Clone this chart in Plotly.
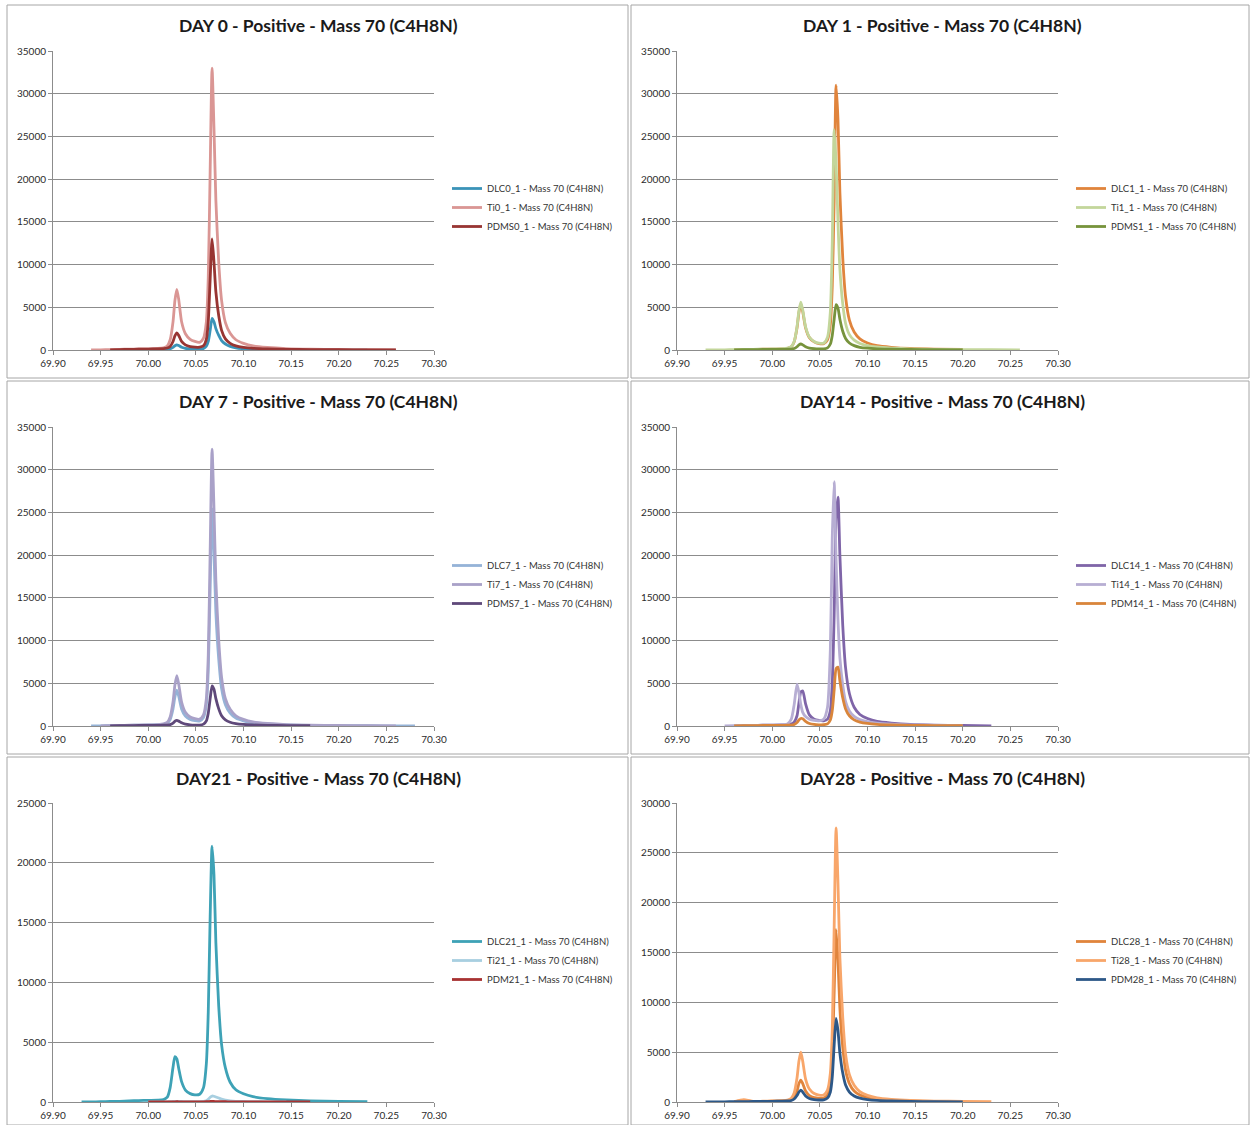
import plotly.graph_objects as go

N = None
# m/z grid (shared by all series)
MZ = [69.93, 69.94, 69.95, 69.96, 69.97, 69.98, 69.99, 70.00, 70.01,
      70.016, 70.020, 70.023, 70.026, 70.028, 70.030, 70.032, 70.035, 70.039, 70.044, 70.049, 70.054, 70.058,
      70.061, 70.063, 70.065, 70.067, 70.069, 70.071, 70.074, 70.077, 70.081, 70.086, 70.092, 70.100,
      70.110, 70.125, 70.145, 70.170, 70.200, 70.230, 70.260, 70.280]

# DAY 0
DLC0 = [N, N, N, N, 0, 20, 30, 40, 50,
        60, 80, 140, 300, 500, 600, 520, 330, 200, 120, 90, 90, 180,
        450, 1000, 2300, 3700, 3300, 2500, 1700, 1100, 700, 420, 250, 150,
        90, 55, 35, 20, 15, 10, N, N]
TI0 = [N, 0, 20, 50, 80, 100, 120, 140, 180,
       260, 480, 1200, 3300, 5800, 7100, 5900, 3300, 1900, 1250, 1000, 900, 1400,
       3300, 8500, 21000, 33000, 26000, 17500, 10200, 5800, 3200, 1950, 1200, 780,
       470, 300, 170, 100, 70, 40, 20, N]
PDMS0 = [N, N, N, 0, 40, 70, 90, 110, 130,
         160, 230, 420, 1000, 1650, 2000, 1700, 1000, 600, 400, 330, 330, 500,
         1250, 3300, 8300, 13000, 10300, 6800, 4000, 2300, 1300, 780, 490, 320,
         200, 130, 80, 50, 30, 20, 10, N]
# DAY 1
DLC1 = [N, N, N, 0, 50, 70, 90, 110, 140,
        200, 370, 950, 2600, 4400, 5400, 4500, 2600, 1450, 950, 750, 750, 1200,
        3000, 7500, 17500, 31000, 27000, 18500, 10800, 6200, 3500, 2100, 1300, 820,
        500, 320, 180, 100, 60, N, N, N]
TI1 = [0, 10, 20, 40, 60, 80, 100, 120, 150,
       220, 400, 1000, 2700, 4600, 5600, 4700, 2700, 1500, 1000, 800, 800, 1500,
       4500, 12500, 25800, 22000, 15000, 9500, 5400, 3100, 1800, 1150, 770, 510,
       350, 230, 130, 80, 50, 30, 10, N]
PDMS1 = [N, N, N, 0, 30, 50, 60, 70, 80,
         90, 110, 180, 380, 600, 700, 600, 380, 230, 150, 120, 130, 250,
         700, 1700, 3600, 5300, 4900, 3600, 2200, 1350, 820, 510, 320, 210,
         140, 90, 60, 40, 20, N, N, N]
# DAY 7
DLC7 = [N, 0, 20, 40, 60, 80, 100, 120, 150,
        200, 330, 760, 2000, 3400, 4200, 3500, 2000, 1150, 760, 620, 600, 1000,
        2500, 6500, 16000, 25400, 20200, 13300, 7800, 4400, 2500, 1500, 920, 600,
        370, 240, 140, 80, 50, 30, 15, 0]
TI7 = [N, N, 0, 40, 70, 90, 110, 130, 170,
       240, 420, 1050, 2800, 4800, 5900, 4900, 2800, 1600, 1050, 850, 800, 1300,
       3200, 8300, 20500, 32400, 25500, 17000, 10000, 5700, 3200, 1950, 1200, 770,
       470, 300, 170, 100, 60, 30, 10, N]
PDMS7 = [N, N, N, 0, 30, 50, 60, 70, 80,
         90, 110, 170, 350, 560, 650, 570, 370, 220, 140, 110, 110, 220,
         600, 1500, 3200, 4700, 4300, 3200, 2000, 1200, 720, 440, 280, 180,
         120, 80, 50, 30, N, N, N, N]
# DAY 14
DLC14 = [N, N, N, 0, 50, 70, 90, 100, 120,
         160, 230, 450, 1200, 2700, 4000, 4100, 2600, 1300, 800, 650, 600, 800,
         1800, 5000, 13000, 24500, 26800, 20000, 11800, 6800, 3800, 2200, 1350, 870,
         530, 340, 190, 110, 60, 20, N, N]
TI14 = [N, N, 0, 30, 50, 70, 90, 110, 150,
        250, 800, 2500, 4900, 3900, 2500, 1600, 1100, 800, 650, 600, 800, 2200,
        9000, 22000, 28600, 19500, 12500, 8000, 4800, 2850, 1750, 1120, 760, 500,
        330, 210, 120, 70, 40, N, N, N]
PDM14 = [N, N, N, 0, 30, 50, 60, 70, 80,
         90, 110, 180, 400, 700, 880, 850, 550, 300, 180, 140, 150, 250,
         700, 1800, 4200, 6700, 6900, 5300, 3300, 2000, 1200, 720, 460, 300,
         200, 130, 80, 50, 30, N, N, N]
# DAY 21
DLC21 = [0, 10, 20, 40, 60, 90, 120, 140, 150,
         200, 400, 1200, 2900, 3800, 3600, 2800, 1700, 1000, 700, 600, 650, 1200,
         3200, 7500, 15500, 21400, 19000, 13300, 8000, 4800, 2850, 1650, 1020, 690,
         450, 280, 170, 100, 60, 20, N, N]
TI21 = [N, N, N, N, N, N, N, 0, 5,
        8, 15, 25, 40, 55, 60, 55, 40, 30, 25, 25, 30, 50,
        110, 230, 400, 500, 480, 420, 330, 240, 160, 100, 60, 40,
        25, 15, 10, N, N, N, N, N]
PDM21 = [N, N, N, N, N, N, N, 0, 5,
         8, 10, 12, 15, 18, 20, 18, 15, 12, 10, 10, 12, 15,
         20, 30, 40, 45, 40, 35, 30, 25, 20, 15, 12, 10,
         8, 5, 5, 0, N, N, N, N]
# DAY 28
DLC28 = [N, N, N, 0, 150, 50, 60, 80, 100,
         140, 230, 480, 1100, 1850, 2200, 1850, 1100, 650, 430, 370, 400, 700,
         1800, 4500, 11000, 17300, 14200, 9400, 5500, 3200, 1850, 1100, 700, 460,
         300, 190, 110, 60, 40, N, N, N]
TI28 = [N, N, N, 30, 230, 60, 80, 100, 130,
        200, 380, 900, 2400, 4100, 5000, 4100, 2300, 1300, 850, 700, 700, 1200,
        2900, 7200, 17500, 27500, 22000, 14500, 8500, 4800, 2750, 1680, 1050, 670,
        420, 270, 160, 90, 60, 30, N, N]
PDM28 = [0, 10, 20, 30, 40, 50, 60, 70, 80,
         100, 150, 300, 650, 1000, 1200, 1000, 600, 350, 230, 200, 220, 400,
         1000, 2500, 5700, 8400, 7200, 4900, 2900, 1700, 1000, 600, 380, 240,
         160, 100, 60, 35, 20, N, N, N]

for arr in [DLC0, TI0, PDMS0, DLC1, TI1, PDMS1, DLC7, TI7, PDMS7, DLC14, TI14, PDM14,
            DLC21, TI21, PDM21, DLC28, TI28, PDM28]:
    assert len(arr) == len(MZ), len(arr)

TITLES = ["DAY 0 - Positive - Mass 70 (C4H8N)", "DAY 1 - Positive - Mass 70 (C4H8N)",
          "DAY 7 - Positive - Mass 70 (C4H8N)", "DAY14 - Positive - Mass 70 (C4H8N)",
          "DAY21 - Positive - Mass 70 (C4H8N)", "DAY28 - Positive - Mass 70 (C4H8N)"]
SERIES = [
    [("DLC0_1 - Mass 70 (C4H8N)", DLC0, "#3B93B8"), ("Ti0_1 - Mass 70 (C4H8N)", TI0, "#DA9694"),
     ("PDMS0_1 - Mass 70 (C4H8N)", PDMS0, "#983533")],
    [("DLC1_1 - Mass 70 (C4H8N)", DLC1, "#E0843C"), ("Ti1_1 - Mass 70 (C4H8N)", TI1, "#C3D69B"),
     ("PDMS1_1 - Mass 70 (C4H8N)", PDMS1, "#77933C")],
    [("DLC7_1 - Mass 70 (C4H8N)", DLC7, "#95B3D7"), ("Ti7_1 - Mass 70 (C4H8N)", TI7, "#A9A1C8"),
     ("PDMS7_1 - Mass 70 (C4H8N)", PDMS7, "#5F497A")],
    [("DLC14_1 - Mass 70 (C4H8N)", DLC14, "#7F65A8"), ("Ti14_1 - Mass 70 (C4H8N)", TI14, "#B7AED3"),
     ("PDM14_1 - Mass 70 (C4H8N)", PDM14, "#D9853B")],
    [("DLC21_1 - Mass 70 (C4H8N)", DLC21, "#3EA2B6"), ("Ti21_1 - Mass 70 (C4H8N)", TI21, "#A8CFE0"),
     ("PDM21_1 - Mass 70 (C4H8N)", PDM21, "#A83232")],
    [("DLC28_1 - Mass 70 (C4H8N)", DLC28, "#E0843C"), ("Ti28_1 - Mass 70 (C4H8N)", TI28, "#F8A66A"),
     ("PDM28_1 - Mass 70 (C4H8N)", PDM28, "#2D5888")],
]
YMAX = [35000, 35000, 35000, 35000, 25000, 30000]
X_RANGE = [69.90, 70.30]

W, H = 1250, 1125
def px(x): return x / W
def py(y): return 1 - y / H

# panel geometry in pixels
COL_X = [(7, 628), (631, 1249)]
ROW_Y = [(5, 378), (381, 754), (757, 1125)]
PLOT_X = [(53, 434), (677, 1058)]
PLOT_Y = [(51, 350), (427, 726), (803, 1102)]
TITLE_CX = [318, 942]
TITLE_Y = [26, 402, 778]
LEG_X = [447, 1071]
LEG_TOP = [174, 551, 927]

FONT = "Lato"
fig = go.Figure()
layout = dict(width=W, height=H, margin=dict(l=0, r=0, t=0, b=0, pad=0, autoexpand=False),
              paper_bgcolor="white", plot_bgcolor="white", showlegend=True,
              font=dict(family=FONT, color="#333333"))
shapes = []
annotations = []
for i in range(6):
    r, c = divmod(i, 2)
    k = i + 1
    xa = "x" if k == 1 else f"x{k}"
    ya = "y" if k == 1 else f"y{k}"
    leg = "legend" if k == 1 else f"legend{k}"
    for name, ys, color in SERIES[i]:
        fig.add_trace(go.Scatter(x=MZ, y=ys, name=name, mode="lines",
                                 line=dict(color=color, width=2.8, shape="spline", smoothing=0.6),
                                 xaxis=xa, yaxis=ya, legend=leg, hoverinfo="skip"))
    layout[f"xaxis{k}"] = dict(domain=[px(PLOT_X[c][0]), px(PLOT_X[c][1])], anchor=ya,
                               range=X_RANGE, dtick=0.05, tick0=69.90, tickformat=".2f",
                               showgrid=False, zeroline=False, showline=True, linecolor="#8C8C8C",
                               linewidth=1, ticks="outside", ticklen=4, tickcolor="#8C8C8C",
                               automargin=False,
                               tickfont=dict(size=10, family=FONT, color="#2B2B2B"))
    layout[f"yaxis{k}"] = dict(domain=[py(PLOT_Y[r][1]), py(PLOT_Y[r][0])], anchor=xa,
                               range=[0, YMAX[i]], dtick=5000, tickformat="d",
                               showgrid=True, gridcolor="#8C8C8C", gridwidth=1, zeroline=False,
                               showline=True, linecolor="#8C8C8C", linewidth=1,
                               ticks="outside", ticklen=4, tickcolor="#8C8C8C",
                               automargin=False,
                               tickfont=dict(size=10, family=FONT, color="#2B2B2B"))
    layout[leg] = dict(x=px(LEG_X[c]), y=py(LEG_TOP[r]), xanchor="left", yanchor="top",
                       bgcolor="rgba(0,0,0,0)", font=dict(size=9.5, family=FONT, color="#333333"),
                       itemwidth=30, tracegroupgap=0)
    shapes.append(dict(type="rect", xref="paper", yref="paper",
                       x0=px(COL_X[c][0]), x1=px(COL_X[c][1]),
                       y0=py(ROW_Y[r][1]), y1=py(ROW_Y[r][0]),
                       line=dict(color="#A6A6A6", width=1), fillcolor="rgba(0,0,0,0)"))
    annotations.append(dict(text=f"<b>{TITLES[i]}</b>", xref="paper", yref="paper",
                            x=px(TITLE_CX[c]), y=py(TITLE_Y[r]), xanchor="center", yanchor="middle",
                            showarrow=False, font=dict(size=17.5, family=FONT, color="#1A1A1A")))
layout["shapes"] = shapes
layout["annotations"] = annotations
fig.update_layout(**layout)
fig.write_html("out.html", config={"displayModeBar": False},
               post_script="document.body.style.margin='0px';document.body.style.padding='0px';"
                           "document.body.style.overflow='hidden';")
